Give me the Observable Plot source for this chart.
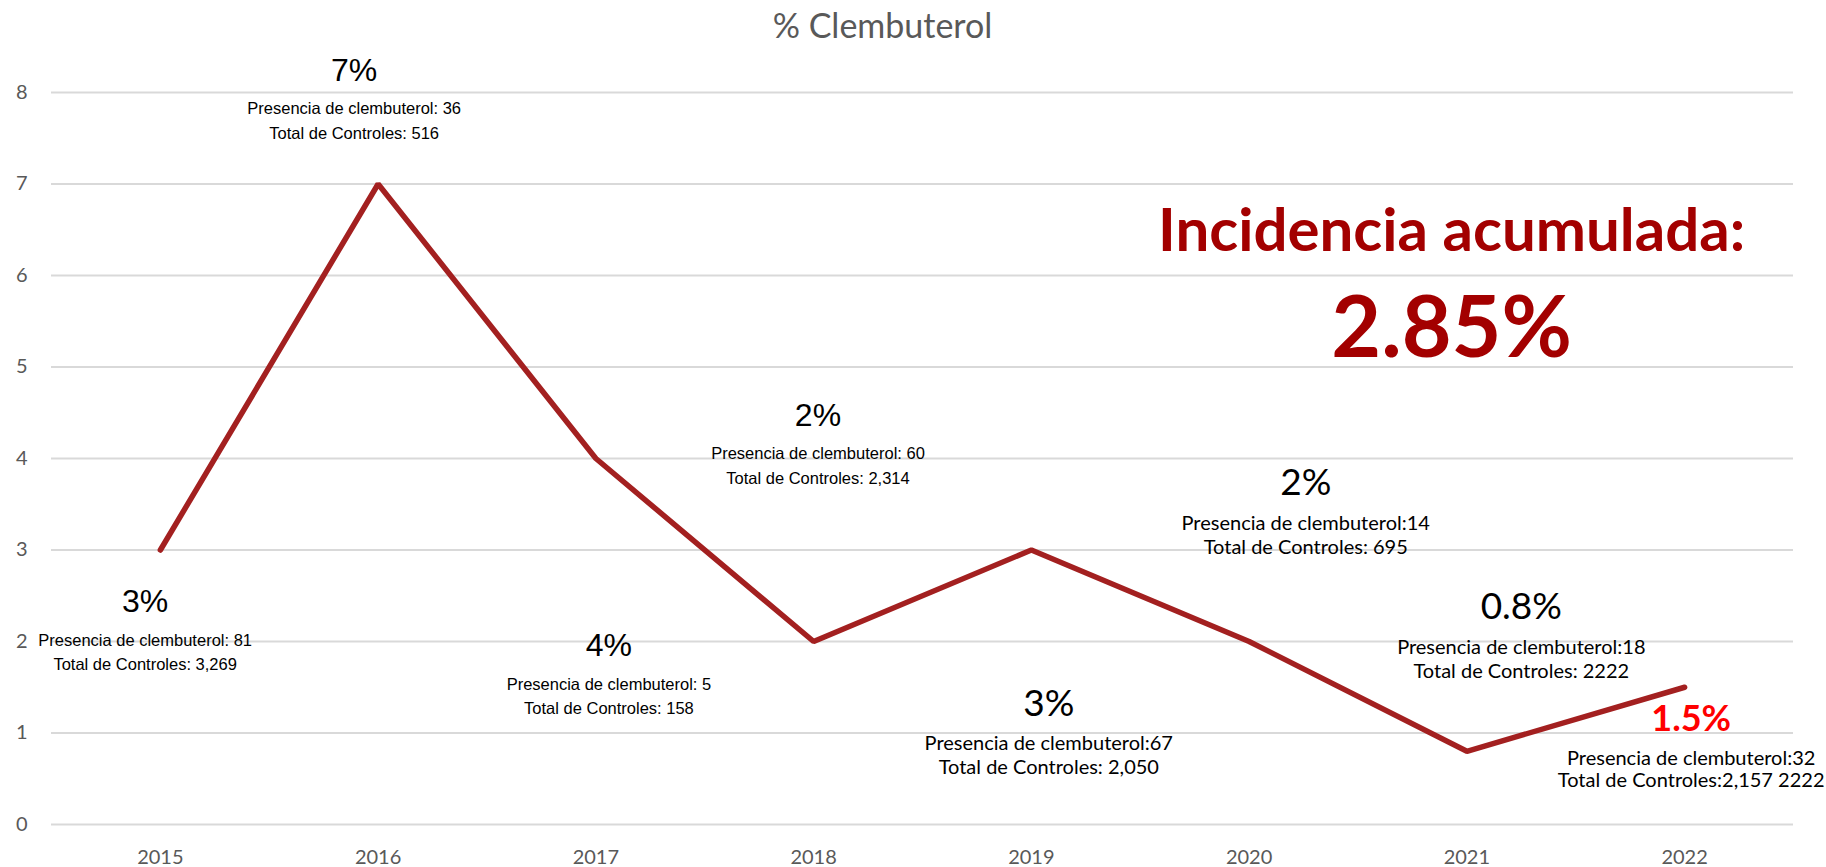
<!DOCTYPE html>
<html>
<head>
<meta charset="utf-8">
<script src="https://cdn.jsdelivr.net/npm/d3@7"></script>
<script src="https://cdn.jsdelivr.net/npm/@observablehq/plot@0.6"></script>
<style>
  html, body { margin: 0; padding: 0; background: #fff; }
</style>
</head>
<body>
<div id="chart"></div>
<script>
// ---- data ----
const years = [2015, 2016, 2017, 2018, 2019, 2020, 2021, 2022];
const pct = [3, 7, 4, 2, 3, 2, 0.8, 1.5];
const pctLabels = ["3%", "7%", "4%", "2%", "3%", "2%", "0.8%", "1.5%"];
const presenciaLines = [
  "Presencia de clembuterol: 81",
  "Presencia de clembuterol: 36",
  "Presencia de clembuterol: 5",
  "Presencia de clembuterol: 60",
  "Presencia de clembuterol:67",
  "Presencia de clembuterol:14",
  "Presencia de clembuterol:18",
  "Presencia de clembuterol:32"
];
const totalLines = [
  "Total de Controles: 3,269",
  "Total de Controles: 516",
  "Total de Controles: 158",
  "Total de Controles: 2,314",
  "Total de Controles: 2,050",
  "Total de Controles: 695",
  "Total de Controles: 2222",
  "Total de Controles:2,157 2222"
];
const yTicks = [0, 1, 2, 3, 4, 5, 6, 7, 8];
const titleText = "% Clembuterol";
const incidenciaText = "Incidencia acumulada:";
const incidenciaValue = "2.85%";

// ---- annotation placement (in data units) ----
const labelX = [2014.93, 2015.89, 2017.06, 2018.02, 2019.08, 2020.26, 2021.25, 2022.03];
const labelY = [2.43, 8.24, 1.95, 4.47, 1.32, 3.73, 2.37, 1.15];
const incidenciaPos = {x: 2020.93, y1: 6.48, y2: 5.41};

const rows = years.map((year, i) => ({
  year, value: pct[i], pctLabel: pctLabels[i],
  lines: presenciaLines[i] + "\n" + totalLines[i],
  lx: labelX[i], ly: labelY[i]
}));
const narrowRows = rows.slice(0, 4);
const wideRows = rows.slice(4, 7);
const lastRows = rows.slice(7);

const narrowFont = "'Liberation Sans Narrow', 'Arial Narrow', 'Liberation Sans', Arial, sans-serif";
const mainFont = "Lato, 'Open Sans', sans-serif";
const lineColor = "#A32020";
const darkRed = "#A30000";

const chart = Plot.plot({
  width: 1826,
  height: 867,
  marginLeft: 51,
  marginRight: 33,
  marginTop: 92,
  marginBottom: 43,
  style: {background: "#fff", fontFamily: mainFont, fontSize: "20px", color: "#595959"},
  x: {type: "linear", domain: [2014.5, 2022.5]},
  y: {domain: [0, 8]},
  marks: [
    Plot.ruleY(yTicks, {stroke: "#d9d9d9", strokeWidth: 2}),
    Plot.axisY({ticks: yTicks, tickSize: 0, tickPadding: 24, fontSize: 20, color: "#595959", label: null}),
    Plot.axisX({ticks: years, tickFormat: d => String(d), tickSize: 0, tickPadding: 25, fontSize: 20, color: "#595959", label: null}),
    Plot.line(rows, {x: "year", y: "value", stroke: lineColor, strokeWidth: 5.5, strokeLinejoin: "miter"}),
    // narrow-font labels (2015-2018)
    Plot.text(narrowRows, {x: "lx", y: "ly", text: "pctLabel", fontSize: 32, fontFamily: narrowFont, fill: "#000", lineAnchor: "middle"}),
    Plot.text(narrowRows, {x: "lx", y: "ly", text: "lines", dy: 48, lineHeight: 1.5, fontSize: 16.5, fontFamily: narrowFont, fill: "#000", lineAnchor: "middle"}),
    // regular labels (2019-2021)
    Plot.text(wideRows, {x: "lx", y: "ly", text: "pctLabel", fontSize: 37, fontFamily: mainFont, fill: "#000", lineAnchor: "middle"}),
    Plot.text(wideRows, {x: "lx", y: "ly", text: "lines", dy: 51, lineHeight: 1.2, fontSize: 20, fontFamily: mainFont, fill: "#000", lineAnchor: "middle"}),
    // 2022 highlighted
    Plot.text(lastRows, {x: "lx", y: "ly", text: "pctLabel", fontSize: 36, fontWeight: "bold", fontFamily: mainFont, fill: "#FF0000", lineAnchor: "middle"}),
    Plot.text(lastRows, {x: "lx", y: "ly", text: "lines", dy: 50, lineHeight: 1.08, fontSize: 20, fontFamily: mainFont, fill: "#000", lineAnchor: "middle"}),
    // cumulative incidence
    Plot.text([incidenciaText], {x: () => incidenciaPos.x, y: () => incidenciaPos.y1, text: d => d, fontSize: 60, fontWeight: "bold", fontFamily: mainFont, fill: darkRed, lineAnchor: "middle"}),
    Plot.text([incidenciaValue], {x: () => incidenciaPos.x, y: () => incidenciaPos.y2, text: d => d, fontSize: 86, fontWeight: "bold", fontFamily: mainFont, fill: darkRed, lineAnchor: "middle"}),
    // title
    Plot.text([titleText], {frameAnchor: "top", dx: -40, dy: -65, text: d => d, fontSize: 34, fontFamily: mainFont, fill: "#595959", lineAnchor: "middle"})
  ]
});
document.getElementById("chart").appendChild(chart);
</script>
</body>
</html>
